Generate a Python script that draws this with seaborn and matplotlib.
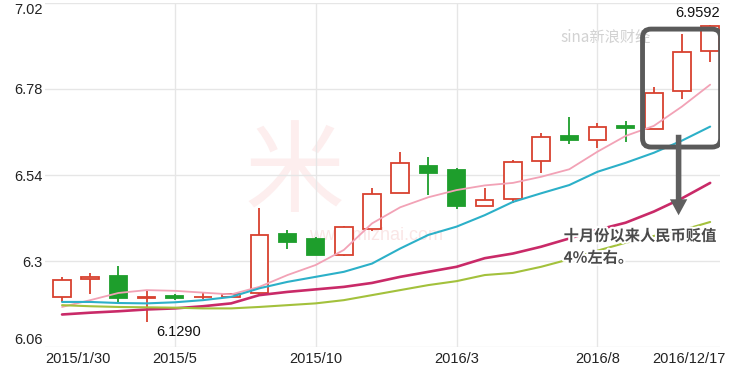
import pandas as pd
import matplotlib.pyplot as plt
import matplotlib.patheffects as pe
import matplotlib.transforms as mtransforms
from matplotlib.patches import FancyBboxPatch
import seaborn as sns

# monthly USD/CNY candles, 2015/1 .. 2016/12
months = ['2015/1', '2015/2', '2015/3', '2015/4', '2015/5', '2015/6', '2015/7', '2015/8',
          '2015/9', '2015/10', '2015/11', '2015/12', '2016/1', '2016/2', '2016/3', '2016/4',
          '2016/5', '2016/6', '2016/7', '2016/8', '2016/9', '2016/10', '2016/11', '2016/12']
opens = [6.200, 6.250, 6.258, 6.197, 6.202, 6.199, 6.199, 6.210, 6.375, 6.361, 6.317, 6.389,
         6.490, 6.566, 6.554, 6.453, 6.472, 6.579, 6.649, 6.638, 6.677, 6.667, 6.774, 6.886]
closes = [6.247, 6.255, 6.196, 6.200, 6.198, 6.201, 6.208, 6.373, 6.354, 6.317, 6.396, 6.487,
          6.574, 6.547, 6.453, 6.470, 6.577, 6.645, 6.638, 6.675, 6.670, 6.770, 6.882, 6.957]
highs = [6.256, 6.267, 6.286, 6.219, 6.208, 6.210, 6.212, 6.447, 6.386, 6.366, 6.398, 6.503,
         6.603, 6.589, 6.560, 6.505, 6.583, 6.658, 6.702, 6.684, 6.692, 6.785, 6.933, 6.9592]
lows = [6.186, 6.207, 6.184, 6.129, 6.191, 6.194, 6.197, 6.208, 6.333, 6.317, 6.315, 6.385,
        6.490, 6.484, 6.444, 6.453, 6.461, 6.546, 6.627, 6.614, 6.633, 6.667, 6.752, 6.856]

# moving average lines
ma5 = [6.172, 6.191, 6.211, 6.219, 6.217, 6.212, 6.207, 6.228, 6.261, 6.289, 6.331, 6.405,
       6.450, 6.478, 6.498, 6.511, 6.518, 6.535, 6.556, 6.605, 6.649, 6.677, 6.731, 6.792]
ma10 = [6.186, 6.186, 6.183, 6.182, 6.185, 6.191, 6.200, 6.224, 6.242, 6.256, 6.270, 6.293,
        6.335, 6.373, 6.396, 6.428, 6.465, 6.489, 6.512, 6.549, 6.574, 6.602, 6.636, 6.675]
ma20 = [6.151, 6.156, 6.160, 6.165, 6.168, 6.174, 6.182, 6.205, 6.214, 6.221, 6.228, 6.239,
        6.256, 6.270, 6.284, 6.308, 6.321, 6.340, 6.363, 6.387, 6.407, 6.438, 6.475, 6.518]
ma30 = [6.177, 6.174, 6.172, 6.171, 6.170, 6.168, 6.168, 6.172, 6.177, 6.182, 6.191, 6.205,
        6.219, 6.233, 6.244, 6.261, 6.267, 6.284, 6.305, 6.329, 6.351, 6.370, 6.386, 6.409]

yticks = [6.06, 6.3, 6.54, 6.78, 7.02]
ytick_labels = ['6.06', '6.3', '6.54', '6.78', '7.02']
xtick_pos = [0, 4, 9, 14, 19, 23]
xtick_labels = ['2015/1/30', '2015/5', '2015/10', '2016/3', '2016/8', '2016/12/17']

sns.set_style('white')
plt.rcParams['font.family'] = ['Liberation Sans', 'Noto Sans CJK SC', 'DejaVu Sans']

up_col = '#d8412f'
down_col = '#1e9e2c'

fig = plt.figure(figsize=(7.4, 3.65), dpi=100)
ax = fig.add_axes([0.061, 0.049, 0.912, 0.943])

# watermarks
ax.text(0.37, 0.50, '米', transform=ax.transAxes, fontsize=72, color='#fdeeee',
        ha='center', va='center', family=['Noto Sans CJK SC'], zorder=0)
ax.text(0.49, 0.325, 'www.mizhai.com', transform=ax.transAxes, fontsize=13, color='#fae6e6',
        ha='center', va='center', zorder=0)
ax.text(0.83, 0.9, 'sina新浪财经', transform=ax.transAxes, fontsize=11, color='#d2d2d2',
        ha='center', va='center', style='italic', family=['Noto Sans CJK SC'], zorder=0)

x = list(range(len(months)))
colors = [up_col if c >= o else down_col for o, c in zip(opens, closes)]
faces = ['white' if c >= o else down_col for o, c in zip(opens, closes)]
bottoms = [min(o, c) for o, c in zip(opens, closes)]
heights = [max(abs(c - o), 0.002) for o, c in zip(opens, closes)]

ax.vlines(x, lows, highs, colors=colors, linewidth=1.3, zorder=2)
ax.bar(x, heights, bottom=bottoms, width=0.62, color=faces, edgecolor=colors,
       linewidth=1.3, zorder=3)

ma = pd.DataFrame({'x': x * 4,
                   'value': ma5 + ma10 + ma20 + ma30,
                   'line': ['MA5'] * 24 + ['MA10'] * 24 + ['MA20'] * 24 + ['MA30'] * 24})
sns.lineplot(data=ma, x='x', y='value', hue='line', ax=ax, legend=False, zorder=4,
             palette={'MA5': '#f2a2b6', 'MA10': '#2cb0c8', 'MA20': '#c92a68', 'MA30': '#a3c13c'},
             size='line', sizes={'MA5': 1.3, 'MA10': 1.5, 'MA20': 1.9, 'MA30': 1.5})

ax.set_xlim(-0.6, 23.35)
ax.set_ylim(6.06, 7.02)
ax.set_yticks(yticks)
ax.set_yticklabels(ytick_labels)
ax.set_xticks(xtick_pos)
ax.set_xticklabels(xtick_labels)
ax.set_xlabel('')
ax.set_ylabel('')
ax.tick_params(axis='both', length=0, labelsize=10.5, colors='#222222')
ax.tick_params(axis='y', pad=2)
ax.tick_params(axis='x', pad=3.5)
ylabs = ax.get_yticklabels()
ylabs[0].set_va('bottom')
ylabs[-1].set_va('top')
xlabs = ax.get_xticklabels()
xlabs[0].set_ha('left')
xlabs[0].set_transform(xlabs[0].get_transform() +
                       mtransforms.ScaledTranslation(-0.17, 0, fig.dpi_scale_trans))
xlabs[-1].set_ha('right')
xlabs[-1].set_transform(xlabs[-1].get_transform() +
                        mtransforms.ScaledTranslation(0.15, 0, fig.dpi_scale_trans))

ax.grid(True, color='#e6e6e6', linewidth=1)
gl = ax.get_xgridlines()
gl[0].set_visible(False)
gl[-1].set_visible(False)
for s in ax.spines.values():
    s.set_visible(False)

# price labels
ax.text(23.35, 6.9592 + 0.012, '6.9592', fontsize=10.5, ha='right', va='bottom', color='#111111')
ax.text(4.15, 6.103, '6.1290', fontsize=10.5, ha='center', va='center', color='#111111')

# highlight box and arrow
box = FancyBboxPatch((20.6, 6.618), 2.77, 0.329, boxstyle='round,pad=0,rounding_size=0.3',
                     mutation_aspect=0.08, facecolor='none', edgecolor='#5a5a5a',
                     linewidth=3.5, zorder=5)
ax.add_patch(box)
ax.annotate('', xy=(21.88, 6.42), xytext=(21.88, 6.66),
            arrowprops=dict(arrowstyle='simple,head_width=1.25,head_length=1.15,tail_width=0.4',
                            mutation_scale=10, color='#5f5f5f', lw=0), zorder=5)

ax.text(17.8, 6.34, '十月份以来人民币贬值\n4%左右。', fontsize=11, color='#4a4a4a',
        ha='left', va='center', linespacing=1.45, family=['Noto Sans CJK SC'],
        fontweight='bold', zorder=6,
        path_effects=[pe.withStroke(linewidth=3, foreground='white')])

plt.savefig('out.png', dpi=100)
